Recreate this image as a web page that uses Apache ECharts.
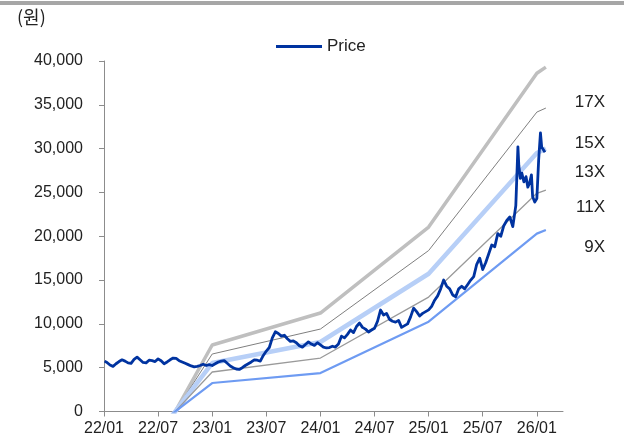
<!DOCTYPE html>
<html><head><meta charset="utf-8">
<script src="https://cdn.jsdelivr.net/npm/echarts@6/dist/echarts.min.js"></script>
<style>html,body{margin:0;padding:0;background:#fff}#c{width:624px;height:441px}</style>
</head><body><div id="c"></div>
<script>
// ---- data ----
const xTickLabels = ['22/01','22/07','23/01','23/07','24/01','24/07','25/01','25/07','26/01'];
const bandNames = ['17X','15X','13X','11X','9X'];
const bandDates = ['2022-01-01','2023-01-01','2024-01-01','2025-01-01','2026-01-01','2026-02-01'];
const band17 = [-14630, 7590, 11240, 21050, 38600, 39300];
const band15 = [-12640, 6560, 9410, 18370, 34170, 34630];
const band13 = [-10660, 5530, 7930, 15720, 29500, 30000];
const band11 = [-8690, 4510, 6100, 13060, 24900, 25270];
const band9  = [-6260, 3250, 4390, 10250, 20300, 20710];

const priceDates = [
'2022-01-03','2022-01-11','2022-01-21','2022-02-01','2022-02-11','2022-02-21','2022-03-01','2022-03-11','2022-03-21',
'2022-04-01','2022-04-11','2022-04-21','2022-05-01','2022-05-11','2022-05-21','2022-06-01','2022-06-11','2022-06-21',
'2022-07-01','2022-07-11','2022-07-21','2022-08-01','2022-08-11','2022-08-21','2022-09-01','2022-09-11','2022-09-21',
'2022-10-01','2022-10-11','2022-10-21','2022-11-01','2022-11-11','2022-11-21','2022-12-01','2022-12-11','2022-12-21',
'2023-01-01','2023-01-11','2023-01-21','2023-02-01','2023-02-11','2023-02-21','2023-03-01','2023-03-11','2023-03-21',
'2023-04-01','2023-04-11','2023-04-21','2023-05-01','2023-05-11','2023-05-21','2023-06-01','2023-06-11','2023-06-21',
'2023-07-01','2023-07-11','2023-07-21','2023-08-01','2023-08-11','2023-08-21','2023-09-01','2023-09-11','2023-09-21',
'2023-10-01','2023-10-11','2023-10-21','2023-11-01','2023-11-11','2023-11-21','2023-12-01','2023-12-11','2023-12-21',
'2024-01-01','2024-01-11','2024-01-21','2024-02-01','2024-02-11','2024-02-21','2024-03-01','2024-03-11','2024-03-21',
'2024-04-01','2024-04-11','2024-04-21','2024-05-01','2024-05-11','2024-05-21','2024-06-01','2024-06-11','2024-06-21',
'2024-07-01','2024-07-11','2024-07-21','2024-08-01','2024-08-11','2024-08-21','2024-09-01','2024-09-11','2024-09-21',
'2024-10-01','2024-10-11','2024-10-21','2024-11-01','2024-11-11','2024-11-21','2024-12-01','2024-12-11','2024-12-21',
'2025-01-01','2025-01-11','2025-01-21','2025-02-01','2025-02-11','2025-02-21','2025-03-01','2025-03-11','2025-03-21',
'2025-04-01','2025-04-11','2025-04-21','2025-05-01','2025-05-11','2025-05-21','2025-06-01','2025-06-11','2025-06-21',
'2025-07-01','2025-07-11','2025-07-21','2025-08-01','2025-08-11','2025-08-21','2025-09-01','2025-09-11','2025-09-21',
'2025-10-01','2025-10-11','2025-10-21','2025-10-28','2025-11-01','2025-11-06','2025-11-11','2025-11-18','2025-11-25',
'2025-12-01','2025-12-07','2025-12-13','2025-12-17','2025-12-24','2026-01-01','2026-01-07','2026-01-13','2026-01-17',
'2026-01-22','2026-01-28'
];
const priceValues = [
5750,5600,5300, 5150,5450,5700, 5900,5750,5550,
5500,5950,6200, 5900,5600,5550, 5850,5800,5700,
6000,5800,5450, 5650,5900,6100, 6050,5800,5650,
5500,5350,5200, 5100,5150,5250, 5400,5250,5350,
5250,5450,5650, 5750,5800,5500, 5200,5000,4850,
4800,5000,5250, 5450,5650,5900, 5850,5750,6400,
6900,7300,8400, 9100,8900,8600, 8700,8300,8000,
8050,7850,7500, 7350,7650,7950, 7700,7550,7850,
7600,7350,7250, 7300,7450,7350, 7700,8600,8400,
8800,9300,9000, 9700,10100,9600, 9400,9070,9300,
9500,10300,11580, 11010,11200,10500, 10300,10200,10400,
9600,9800,10000, 10800,11800,11400, 10900,11200,11400,
11600,12000,12700, 13200,14000,15000, 14300,14000,13300,
13100,14000,14300, 14000,14500,15000, 15400,16800,17500,
16200,17000,18000, 19000,18800,20300, 20000,21200,21800,
22200,21100,23500, 30200,28100,26600, 27200,26200,26800,
25600,26100,27000, 24500,23900,24300, 28700,31800,30200,
30400,29600
];

// ---- helpers ----
function toMonth(s){const p=s.split('-').map(Number);return (p[0]-2022)*12+(p[1]-1)+(p[2]-1)/30;}
function pairs(dates, vals){return dates.map((d,i)=>[toMonth(d), vals[i]]);}
const FONT = '"Liberation Sans",Arial,sans-serif';

const chart = echarts.init(document.getElementById('c'), null, {renderer:'canvas'});
const bandStyle = [
  {color:'#BFBFBF', width:3.5},
  {color:'#7F7F7F', width:1},
  {color:'#B7CFF7', width:4.5},
  {color:'#9A9A9A', width:1.3},
  {color:'#6E9BF2', width:2.2}
];
const bands = [band17, band15, band13, band11, band9];
const series = bands.map((b,i)=>({
  name: bandNames[i], type:'line', data: pairs(bandDates, b),
  showSymbol:false, symbol:'none', clip:true, silent:true,
  lineStyle:{color:bandStyle[i].color, width:bandStyle[i].width}, z:2
}));
series.push({
  name:'Price', type:'line', data: pairs(priceDates, priceValues),
  showSymbol:false, symbol:'none', clip:true,
  lineStyle:{color:'#0033A0', width:2.8, join:'round'}, itemStyle:{color:'#0033A0'}, z:5
});

const labelY = [103,144,173,208,248];
chart.setOption({
  animation:false,
  backgroundColor:'#fff',
  grid:{left:104, right:61, top:61, bottom:29.5, containLabel:false},
  legend:{
    data:[{name:'Price', icon:'rect'}], top:33, left:271,
    itemWidth:46, itemHeight:3, itemGap:4,
    textStyle:{fontFamily:FONT, fontSize:17, color:'#222'}
  },
  xAxis:{
    type:'value', min:0, max:50.9, interval:6,
    axisLine:{show:true, lineStyle:{color:'#8C8C8C', width:1}},
    axisTick:{show:true, length:5, lineStyle:{color:'#8C8C8C'}},
    splitLine:{show:false},
    axisLabel:{
      fontFamily:FONT, fontSize:16, color:'#222', margin:9, showMaxLabel:false,
      formatter:(v)=>{const i=Math.round(v/6);return xTickLabels[i]||'';}
    }
  },
  yAxis:{
    type:'value', min:0, max:40000, interval:5000,
    axisLine:{show:true, lineStyle:{color:'#8C8C8C', width:1}},
    axisTick:{show:true, length:5, lineStyle:{color:'#8C8C8C'}},
    splitLine:{show:false},
    axisLabel:{fontFamily:FONT, fontSize:16, color:'#222', margin:21,
      formatter:(v)=>v.toLocaleString('en-US')}
  },
  graphic:[
    {type:'rect', left:0, top:1, shape:{width:624, height:4}, style:{fill:'#A6A6A6'}},
    {type:'text', left:17, top:8, style:{text:'(원)', font:'18px "Noto Sans CJK KR", sans-serif', fill:'#222'}}
  ].concat(bandNames.map((n,i)=>({
    type:'text', right:19, top:labelY[i]-9,
    style:{text:n, font:'17px '+FONT, fill:'#222', textAlign:'right'}
  }))),
  series: series
});
</script></body></html>
